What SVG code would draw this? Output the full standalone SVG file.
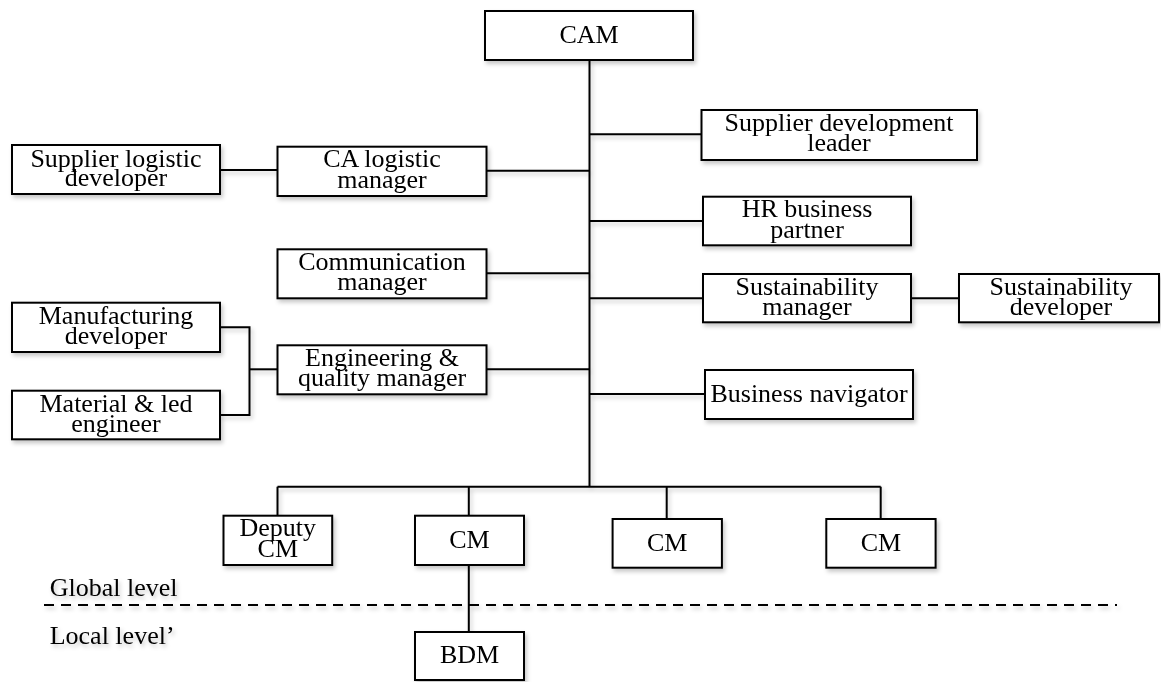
<svg xmlns="http://www.w3.org/2000/svg" width="1161" height="682" viewBox="0 0 1161 682">
  <style>
    .box { fill: #fff; stroke: #000; stroke-width: 2; }
    .lbl { font-family: "Liberation Serif", "Times New Roman", serif; font-size: 26px; fill: #000; text-anchor: middle; }
    .side { font-family: "Liberation Serif", "Times New Roman", serif; font-size: 26px; fill: #000; }
    .wire { fill: none; stroke: #000; stroke-width: 2; }
    .split { fill: none; stroke: #000; stroke-width: 2; stroke-dasharray: 10 7; }
  </style>
  <defs>
    <filter id="soft" x="-5%" y="-5%" width="110%" height="115%">
      <feDropShadow dx="2" dy="3" stdDeviation="2" flood-color="#000" flood-opacity="0.22"/>
    </filter>
  </defs>
  <rect width="1161" height="682" fill="#fff"/>

  <g filter="url(#soft)">
    <!-- connectors -->
    <g id="connectors">
      <path class="wire" d="M589.5 60 V486.7"/>
      <path class="wire" d="M589.5 134.3 H701.5"/>
      <path class="wire" d="M589.5 221 H703"/>
      <path class="wire" d="M589.5 298.3 H703"/>
      <path class="wire" d="M911 298.3 H959"/>
      <path class="wire" d="M589.5 394 H705"/>
      <path class="wire" d="M486.5 170.7 H589.5"/>
      <path class="wire" d="M220 170 H277.5"/>
      <path class="wire" d="M486.5 273.3 H589.5"/>
      <path class="wire" d="M486.5 369.3 H589.5"/>
      <path class="wire" d="M220 327.3 H249.5 V415 H220"/>
      <path class="wire" d="M249.5 369.3 H277.5"/>
      <path class="wire" d="M277.5 486.7 H880.7"/>
      <path class="wire" d="M277.5 486.7 V515.7"/>
      <path class="wire" d="M468.8 486.7 V515.7"/>
      <path class="wire" d="M666.7 486.7 V519"/>
      <path class="wire" d="M880.7 486.7 V519"/>
      <path class="wire" d="M468.8 565 V632"/>
    </g>

    <!-- level divider -->
    <g id="levels">
      <path class="split" d="M44 605 H1117"/>
      <text class="side" x="49.7" y="596">Global level</text>
      <text class="side" x="49.7" y="644">Local level’</text>
    </g>

    <g id="cam">
      <rect class="box" x="485" y="11" width="208" height="49"/>
      <text class="lbl" x="589" y="42.5">CAM</text>
    </g>
    <g id="supplier-development-leader">
      <rect class="box" x="701.5" y="110" width="275.5" height="50"/>
      <text class="lbl" x="839" y="131">Supplier development</text>
      <text class="lbl" x="839" y="151">leader</text>
    </g>
    <g id="hr-business-partner">
      <rect class="box" x="703" y="196.7" width="208" height="48.6"/>
      <text class="lbl" x="807" y="217">HR business</text>
      <text class="lbl" x="807" y="237.5">partner</text>
    </g>
    <g id="sustainability-manager">
      <rect class="box" x="703" y="274" width="208" height="48.3"/>
      <text class="lbl" x="807" y="295">Sustainability</text>
      <text class="lbl" x="807" y="315">manager</text>
    </g>
    <g id="sustainability-developer">
      <rect class="box" x="959" y="274" width="200" height="48.3"/>
      <text class="lbl" x="1061" y="295">Sustainability</text>
      <text class="lbl" x="1061" y="315">developer</text>
    </g>
    <g id="business-navigator">
      <rect class="box" x="705" y="370" width="208" height="49"/>
      <text class="lbl" x="809" y="401.5">Business navigator</text>
    </g>
    <g id="supplier-logistic-developer">
      <rect class="box" x="12" y="145" width="208" height="49"/>
      <text class="lbl" x="116" y="166.5">Supplier logistic</text>
      <text class="lbl" x="116" y="185.5">developer</text>
    </g>
    <g id="ca-logistic-manager">
      <rect class="box" x="277.5" y="146.7" width="209" height="49.3"/>
      <text class="lbl" x="382" y="167">CA logistic</text>
      <text class="lbl" x="382" y="188">manager</text>
    </g>
    <g id="communication-manager">
      <rect class="box" x="277.5" y="249.3" width="209" height="49"/>
      <text class="lbl" x="382" y="270">Communication</text>
      <text class="lbl" x="382" y="290">manager</text>
    </g>
    <g id="manufacturing-developer">
      <rect class="box" x="12" y="302.7" width="208" height="49.3"/>
      <text class="lbl" x="116" y="323.5">Manufacturing</text>
      <text class="lbl" x="116" y="343.5">developer</text>
    </g>
    <g id="material-led-engineer">
      <rect class="box" x="12" y="390.7" width="208" height="48.6"/>
      <text class="lbl" x="116" y="411.5">Material &amp; led</text>
      <text class="lbl" x="116" y="431.5">engineer</text>
    </g>
    <g id="engineering-quality-manager">
      <rect class="box" x="277.5" y="345.3" width="209" height="49"/>
      <text class="lbl" x="382" y="366">Engineering &amp;</text>
      <text class="lbl" x="382" y="386">quality manager</text>
    </g>
    <g id="deputy-cm">
      <rect class="box" x="223.5" y="515.7" width="108.7" height="49.3"/>
      <text class="lbl" x="277.8" y="535.5">Deputy</text>
      <text class="lbl" x="277.8" y="556.5">CM</text>
    </g>
    <g id="cm-1">
      <rect class="box" x="415" y="515.7" width="109" height="49.3"/>
      <text class="lbl" x="469.5" y="547.5">CM</text>
    </g>
    <g id="cm-2">
      <rect class="box" x="612.6" y="519" width="109.3" height="48.7"/>
      <text class="lbl" x="667.2" y="550.5">CM</text>
    </g>
    <g id="cm-3">
      <rect class="box" x="826.3" y="519" width="109.3" height="48.7"/>
      <text class="lbl" x="881" y="550.5">CM</text>
    </g>
    <g id="bdm">
      <rect class="box" x="415" y="632" width="109" height="48"/>
      <text class="lbl" x="469.5" y="663">BDM</text>
    </g>
  </g>
</svg>
